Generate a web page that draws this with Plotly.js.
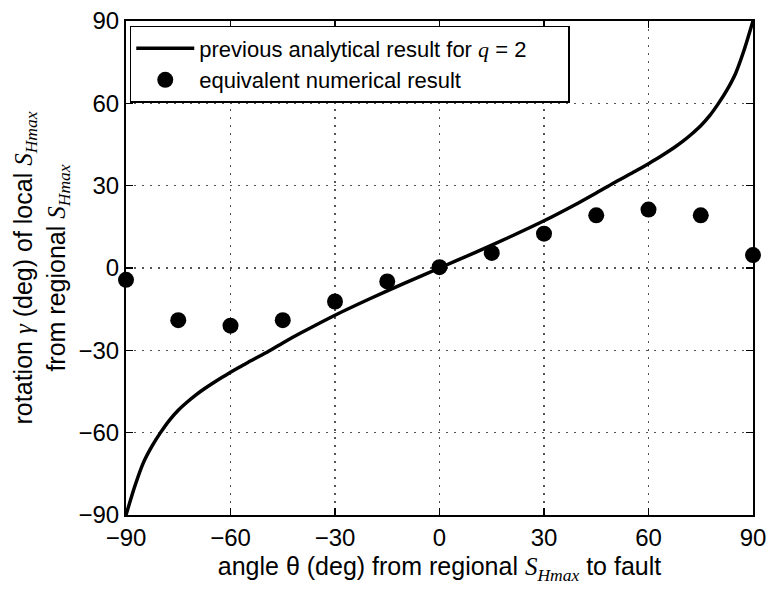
<!DOCTYPE html>
<html>
<head>
<meta charset="utf-8">
<script src="https://cdn.plot.ly/plotly-3.0.1.min.js"></script>
<style>html,body{margin:0;padding:0;background:#fff;}#chart{width:771px;height:593px;}</style>
</head>
<body>
<div id="chart"></div>
<script>
// Analytical curve
const curveTheta = [-90, -87.5, -85, -82.5, -80, -77.5, -75, -72.5, -70, -67.5, -65, -62.5, -60, -57.5, -55, -50, -45, -40, -30, -20, -10, 0,
                    10, 20, 30, 40, 45, 50, 55, 57.5, 60, 62.5, 65, 67.5, 70, 72.5, 75, 77.5, 80, 82.5, 85, 87.5, 90];
const curveGamma = [-90, -79.6, -70.9, -64.8, -59.8, -55.4, -51.8, -48.9, -46.3, -44, -41.9, -39.9, -38, -36.2, -34.4, -31, -27.3, -23.8, -17.2, -11.2, -5.5, 0,
                    5.5, 11.2, 17.2, 23.8, 27.3, 31, 34.4, 36.2, 38, 39.9, 41.9, 44, 46.3, 48.9, 51.8, 55.4, 59.8, 64.8, 70.9, 79.6, 90];
// Numerical results
const numTheta = [-90, -75, -60, -45, -30, -15, 0, 15, 30, 45, 60, 75, 90];
const numGamma = [-4.3, -19, -21, -19, -12.2, -4.9, 0.3, 5.5, 12.5, 19.2, 21.3, 19.2, 4.7];
const tickVals = [-90, -60, -30, 0, 30, 60, 90];
const tickText = ['\u221290', '\u221260', '\u221230', '0', '30', '60', '90'];

const serifI = "<span style=\"font-family:'Liberation Serif',serif;font-style:italic\">";
const SH = serifI + "S<sub>Hmax</sub></span>";

const traces = [
  {x: curveTheta, y: curveGamma, mode: 'lines', type: 'scatter', line: {color: '#000', width: 3.5, shape: 'spline', smoothing: 0.6},
   name: 'previous analytical result for ' + serifI + 'q</span> = 2\u00a0\u00a0\u00a0\u00a0\u00a0\u00a0', cliponaxis: false},
  {x: numTheta, y: numGamma, mode: 'markers', type: 'scatter', marker: {color: '#000', size: 16},
   name: 'equivalent numerical result', cliponaxis: false}
];

const axisCommon = {
  range: [-90, 90], tickvals: tickVals, ticktext: tickText, ticks: 'inside', ticklen: 7, tickwidth: 1.5, tickcolor: '#000',
  showline: true, linecolor: '#000', linewidth: 2, mirror: 'ticks', zeroline: false,
  showgrid: true, gridcolor: '#555', griddash: '2px,6px', gridwidth: 1.5,
  tickfont: {family: 'Liberation Sans, Arial, sans-serif', size: 24, color: '#000'}
};

const layout = {
  width: 771, height: 593,
  margin: {l: 126, r: 18, t: 21, b: 78},
  paper_bgcolor: '#fff', plot_bgcolor: '#fff',
  font: {family: 'Liberation Sans, Arial, sans-serif', color: '#000'},
  showlegend: true,
  legend: {x: 0.006, y: 0.99, xanchor: 'left', yanchor: 'top', bgcolor: '#fff', bordercolor: '#000', borderwidth: 1.5,
           font: {size: 22, color: '#000'}, tracegroupgap: 0, itemwidth: 58},
  xaxis: Object.assign({}, axisCommon, {
    title: {text: 'angle \u03b8 (deg) from regional ' + SH + ' to fault', font: {size: 25, color: '#000'}, standoff: 8}
  }),
  yaxis: Object.assign({}, axisCommon, {
    title: {text: 'rotation ' + serifI + '\u03b3</span> (deg) of local ' + SH + '<br>from regional ' + SH, font: {size: 25, color: '#000'}, standoff: 6}
  })
};

Plotly.newPlot('chart', traces, layout, {displayModeBar: false, staticPlot: true});
</script>
</body>
</html>
